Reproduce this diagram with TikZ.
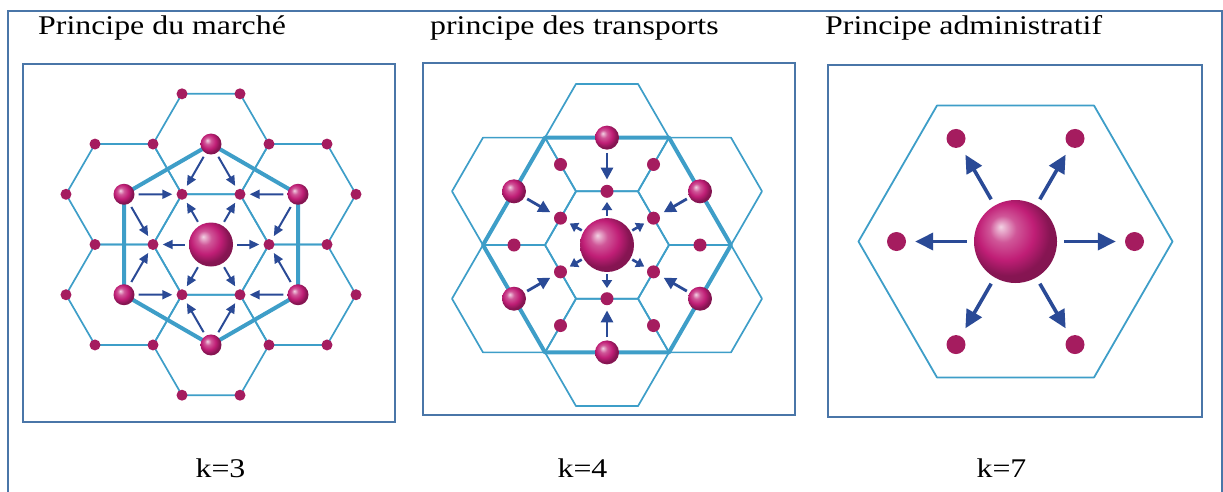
\documentclass[tikz,border=0pt]{standalone}
\usepackage{fontspec}
\setmainfont{Liberation Serif}
\usetikzlibrary{arrows.meta}
\definecolor{framecol}{RGB}{74,118,168}
\definecolor{hexcol}{RGB}{62,158,200}
\definecolor{arrcol}{RGB}{42,74,150}
\definecolor{dotcol}{RGB}{165,28,95}
\definecolor{ballcol}{RGB}{192,30,118}
\pgfdeclareradialshading{pinkball}{\pgfpoint{-9bp}{9bp}}{color(0bp)=(ballcol!20!white); color(8bp)=(ballcol!75!white); color(17bp)=(ballcol); color(25bp)=(ballcol!70!black); color(50bp)=(ballcol!60!black)}
\newcommand{\stretched}[1]{\scalebox{1.18}[1]{#1}}
\tikzset{frame/.style = {draw=framecol, line width=2}}
\tikzset{hexa/.style = {draw=hexcol, line width=1.7, line join=round}}
\tikzset{hexthick/.style = {draw=hexcol, line width=4, line join=round}}
\tikzset{sdot/.style = {circle, fill=dotcol, inner sep=0, minimum size=#1}}
\tikzset{sball/.style = {circle, shading=pinkball, inner sep=0, minimum size=#1}}
\tikzset{arrA/.style = {draw=arrcol, line width=2, shorten <=4, shorten >=4, -{Triangle[length=10,width=9]}}}
\tikzset{arrB/.style = {draw=arrcol, line width=2.8, shorten <=3, shorten >=5, -{Triangle[length=12,width=12]}}}
\tikzset{arrBs/.style = {draw=arrcol, line width=2.6, shorten <=2, shorten >=4, -{Triangle[length=8,width=10]}}}
\tikzset{arrC/.style = {draw=arrcol, line width=3.6, shorten <=7, shorten >=9, -{Triangle[length=18,width=17]}}}
\tikzset{title/.style = {font=\fontsize{27}{30}\selectfont, inner sep=0, anchor=base west}}
\tikzset{klabel/.style = {font=\fontsize{27}{30}\selectfont, inner sep=0, anchor=base}}

\begin{document}
\begin{tikzpicture}[x=1pt,y=-1pt]
  \useasboundingbox (0,0) rectangle (1223,491);
  \draw[frame] (8.3,495) -- (8.3,11) -- (1221.5,11) -- (1221.5,495);
  \draw[frame] (23.3,64) rectangle (395,421.7);
  \draw[frame] (422.7,63.3) rectangle (795,415);
  \draw[frame] (828.3,65) rectangle (1201.7,416.7);

  \node[title] (t1) at (38,34.3) {\stretched{Principe du marché}};
  \node[title] (t2) at (430,34.3) {\stretched{principe des transports}};
  \node[title] (t3) at (825,34.3) {\stretched{Principe administratif}};
  \node[klabel] (k1) at (220.5,477) {\stretched{k=3}};
  \node[klabel] (k2) at (582.5,477) {\stretched{k=4}};
  \node[klabel] (k3) at (1001.5,477) {\stretched{k=7}};

  % k=3
  \begin{scope}[shift={(211,244.5)}]
    \draw[hexa] (0:58) \foreach \a in {60,120,...,300} {-- (\a:58)} -- cycle;
    \foreach \b in {30,90,...,330}
      \draw[hexa, shift={(\b:100.46)}] (0:58) \foreach \a in {60,120,...,300} {-- (\a:58)} -- cycle;
    \draw[hexthick] (30:100.46) \foreach \b in {90,150,...,330} {-- (\b:100.46)} -- cycle;
    \foreach \a in {0,60,...,300}
      \node[sdot=11] (A-v\a) at (\a:58) {};
    \foreach \b in {30,90,...,330} {
      \path (\b:100.46) ++(\b-30:58) node[sdot=11] (A-o\b) {};
      \path (\b:100.46) ++(\b+30:58) node[sdot=11] (A-p\b) {};
      \path (\b:100.46) ++(\b+90:58) node[sdot=11] (A-q\b) {};
    }
    \node[sball=44] (A-c) at (0,0) {};
    \foreach \b in {30,90,...,330}
      \node[sball=21] (A-m\b) at (\b:100.46) {};
    \foreach \a in {0,60,...,300}
      \draw[arrA] (A-c) -- (A-v\a);
    \foreach \b in {30,90,...,330} {
      \pgfmathtruncatemacro\va{mod(\b+330,360)}
      \pgfmathtruncatemacro\vb{mod(\b+30,360)}
      \draw[arrA] (A-m\b) -- (A-v\va);
      \draw[arrA] (A-m\b) -- (A-v\vb);
    }
  \end{scope}

  % k=4
  \begin{scope}[shift={(607,245)}]
    \draw[hexa] (0:62) \foreach \a in {60,120,...,300} {-- (\a:62)} -- cycle;
    \foreach \b in {30,90,...,330}
      \draw[hexa, shift={(\b:107.39)}] (0:62) \foreach \a in {60,120,...,300} {-- (\a:62)} -- cycle;
    \draw[hexthick] (0:124) \foreach \a in {60,120,...,300} {-- (\a:124)} -- cycle;
    \foreach \b in {30,90,...,330}
      \node[sdot=13] (B-i\b) at (\b:53.7) {};
    \foreach \a in {0,60,...,300}
      \node[sdot=13] (B-s\a) at (\a:93) {};
    \node[sball=54] (B-c) at (0,0) {};
    \foreach \b in {30,90,...,330}
      \node[sball=24] (B-m\b) at (\b:107.39) {};
    \foreach \b in {30,90,...,330} {
      \draw[arrBs] (B-c) -- (B-i\b);
      \draw[arrB] (B-m\b) -- (B-i\b);
    }
  \end{scope}

  % k=7
  \begin{scope}[shift={(1015.5,241.5)}]
    \draw[hexa, line width=1.8] (0:157) \foreach \a in {60,120,...,300} {-- (\a:157)} -- cycle;
    \foreach \a in {0,60,...,300}
      \node[sdot=19] (C-s\a) at (\a:119) {};
    \node[sball=83] (C-c) at (0,0) {};
    \foreach \a in {0,60,...,300}
      \draw[arrC] (C-c) -- (C-s\a);
  \end{scope}
\end{tikzpicture}
\end{document}
